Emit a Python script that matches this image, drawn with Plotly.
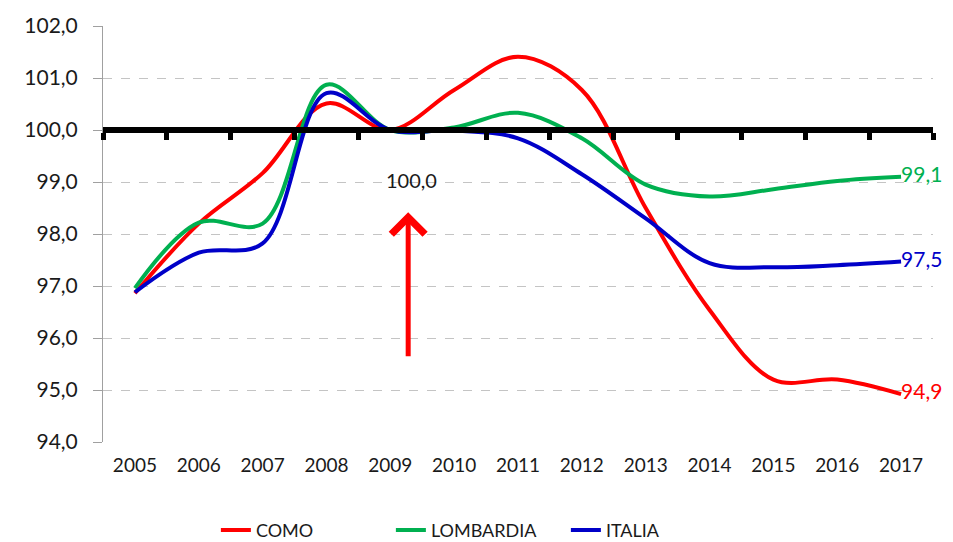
import plotly.graph_objects as go

years = [2005, 2006, 2007, 2008, 2009, 2010, 2011, 2012, 2013, 2014, 2015, 2016, 2017]
como = [96.86, 98.2, 99.17, 100.51, 100.0, 100.77, 101.41, 100.77, 98.5, 96.54, 95.2, 95.2, 94.92]
lombardia = [96.96, 98.22, 98.2, 100.87, 100.0, 100.05, 100.33, 99.84, 98.95, 98.72, 98.86, 99.02, 99.1]
italia = [96.88, 97.64, 97.82, 100.71, 100.0, 99.99, 99.84, 99.15, 98.3, 97.44, 97.36, 97.4, 97.47]
base = 100.0

series = [("COMO", como, "#ff0000"), ("LOMBARDIA", lombardia, "#00b050"), ("ITALIA", italia, "#0000c8")]

fig = go.Figure()

for name, vals, col in series:
    tt = [""] * (len(vals) - 1) + ["%{y:.1f}"]
    fig.add_trace(go.Scatter(
        x=years, y=vals, name=name, mode="lines+text",
        line=dict(color=col, width=4, shape="spline", smoothing=1),
        texttemplate=tt, textposition="middle right",
        textfont=dict(color=col, size=21), cliponaxis=False,
    ))

# invisible trace so the base axis (at 100) is drawn
fig.add_trace(go.Scatter(x=years, y=[base] * len(years), xaxis="x2", mode="lines",
                         line=dict(width=0), showlegend=False, hoverinfo="skip"))

fig.add_annotation(x=2009.28, y=98.42, ax=2009.28, ay=95.62, axref="x", ayref="y",
                   text="", showarrow=True, arrowhead=4, arrowsize=1.3, arrowwidth=5,
                   arrowcolor="#ff0000")
fig.add_annotation(x=2009.33, y=99.04, text="100,0", showarrow=False,
                   font=dict(size=20, color="#1a1a1a"))

# page body has an 8px margin, so the figure is offset by 8px
fig.update_layout(
    width=937, height=534,
    margin=dict(l=95, r=12, t=18, b=100, autoexpand=False),
    plot_bgcolor="white", paper_bgcolor="white",
    separators=",.",
    font=dict(family="Lato", size=20, color="#1a1a1a"),
    showlegend=True,
    legend=dict(orientation="h", x=0.136, xanchor="left", y=-0.212, yanchor="middle",
                font=dict(size=18), entrywidth=130, entrywidthmode="pixels"),
    xaxis=dict(range=[2004.5, 2017.5], tickmode="linear", tick0=2005, dtick=1,
               showgrid=False, showline=False, ticks="", zeroline=False,
               ticklabelstandoff=10, automargin=False, tickfont=dict(size=19)),
    xaxis2=dict(overlaying="x", matches="x", anchor="free", position=0.75,
                showline=True, linecolor="#000000", linewidth=6,
                tickmode="linear", tick0=2004.5, dtick=1, ticks="outside",
                ticklen=7, tickwidth=5, tickcolor="#000000",
                showticklabels=False, showgrid=False, zeroline=False, automargin=False),
    yaxis=dict(range=[94, 102], tickmode="linear", tick0=94, dtick=1, tickformat=".1f",
               showgrid=True, gridcolor="#c4c4c4", griddash="dash", gridwidth=1,
               showline=True, linecolor="#a0a0a0", linewidth=1,
               ticks="outside", ticklen=9, tickcolor="#a0a0a0",
               zeroline=False, ticklabelstandoff=11, automargin=False,
               tickfont=dict(size=21)),
)

fig.write_html("out.html")
